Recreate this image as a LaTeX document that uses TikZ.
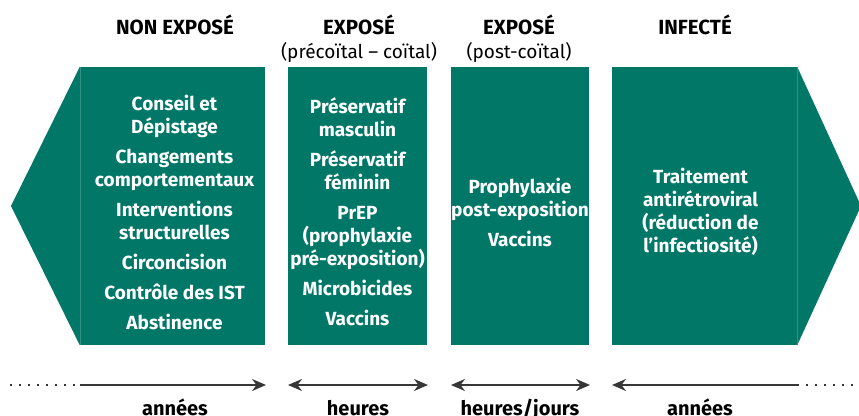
\documentclass[tikz,border=0pt]{standalone}
\usepackage{fontspec}
\setmainfont{Fira Sans}
\usetikzlibrary{arrows.meta,positioning}
\definecolor{boxgreen}{RGB}{0,119,103}
\definecolor{spangray}{RGB}{55,55,55}

\begin{document}
\begin{tikzpicture}[x=1pt,y=-1pt,>=Stealth,
    box/.style={fill=boxgreen,minimum height=278pt,inner sep=0pt},
    boxtext/.style={text=white,align=center,inner sep=0pt,
      font=\fontsize{19}{23}\selectfont\bfseries},
    head/.style={font=\fontsize{20.5}{22}\selectfont\bfseries},
    sub/.style={font=\fontsize{19}{21}\selectfont},
    unit/.style={font=\fontsize{20}{22}\selectfont\bfseries,anchor=base},
    seam/.style={draw=boxgreen!80!white,line width=0.5pt},
    span/.style={draw=spangray,line width=2pt},
    dots/.style={draw=spangray,line width=2pt,dash pattern=on 2pt off 7pt}]
  \useasboundingbox (0,0) rectangle (859,415);
  % Boxes
  \node[box,minimum width=185pt] (nonexp) at (172.5,206) {};
  \node[box,minimum width=139pt] (pre) at (357.5,206) {};
  \node[box,minimum width=138pt] (post) at (520,206) {};
  \node[box,minimum width=185pt] (inf) at (704.5,206) {};
  % Arrow tips of the outer boxes
  \coordinate (ltip) at (11,206);
  \coordinate (rtip) at (861,206);
  \fill[boxgreen] (nonexp.north west) -- (ltip) -- (nonexp.south west) -- cycle;
  \fill[boxgreen] (inf.north east) -- (rtip) -- (inf.south east) -- cycle;
  \draw[seam] (nonexp.north west) -- (nonexp.south west);
  \draw[seam] (inf.north east) -- (inf.south east);
  % Box texts
  \node[boxtext] (t1) at ([xshift=2pt,yshift=-6pt]nonexp.center) {Conseil et\\Dépistage\\[7pt]
    Changements\\comportementaux\\[7pt]Interventions\\structurelles\\[7pt]
    Circoncision\\[7pt]Contrôle des IST\\[7pt]Abstinence};
  \node[boxtext] (t2) at ([yshift=-6pt]pre.center) {Préservatif\\masculin\\[7pt]
    Préservatif\\féminin\\[7pt]PrEP\\(prophylaxie\\pré-exposition)\\[7pt]
    Microbicides\\[7pt]Vaccins};
  \node[boxtext] (t3) at ([yshift=-6pt]post.center) {Prophylaxie\\post-exposition\\[7pt]Vaccins};
  \node[boxtext] (t4) at ([xshift=-4pt,yshift=-6pt]inf.center) {Traitement\\antirétroviral\\(réduction de\\l'infectiosité)};
  % Headers
  \node[head] (h1) at (175,25) {NON EXPOSÉ};
  \node[head] (h2) at (359,25) {EXPOSÉ};
  \node[sub,below=0pt of h2] (s2) {(précoïtal – coïtal)};
  \node[head] (h3) at (519,25) {EXPOSÉ};
  \node[sub,below=0pt of h3] (s3) {(post-coïtal)};
  \node[head] (h4) at (695,25) {INFECTÉ};
  % Time spans
  \coordinate (d1) at (10,385);
  \coordinate (a1) at (80,385);
  \coordinate (b1) at (266,385);
  \coordinate (a2) at (288,385);
  \coordinate (b2) at (428,385);
  \coordinate (a3) at (451,385);
  \coordinate (b3) at (590,385);
  \coordinate (a4) at (612,385);
  \coordinate (b4) at (797,385);
  \coordinate (d4) at (858,385);
  \draw[dots] (d1) -- (a1);
  \draw[span,-{Stealth[length=14pt,width=12pt]}] (a1) -- (b1);
  \draw[span,{Stealth[length=14pt,width=12pt]}-{Stealth[length=14pt,width=12pt]}] (a2) -- (b2);
  \draw[span,{Stealth[length=14pt,width=12pt]}-{Stealth[length=14pt,width=12pt]}] (a3) -- (b3);
  \draw[span,{Stealth[length=14pt,width=12pt]}-] (a4) -- (b4);
  \draw[dots] (b4) -- (d4);
  \node[unit] (u1) at (175,415) {années};
  \node[unit] (u2) at (358,415) {heures};
  \node[unit] (u3) at (520,415) {heures/jours};
  \node[unit] (u4) at (700,415) {années};
\end{tikzpicture}
\end{document}
